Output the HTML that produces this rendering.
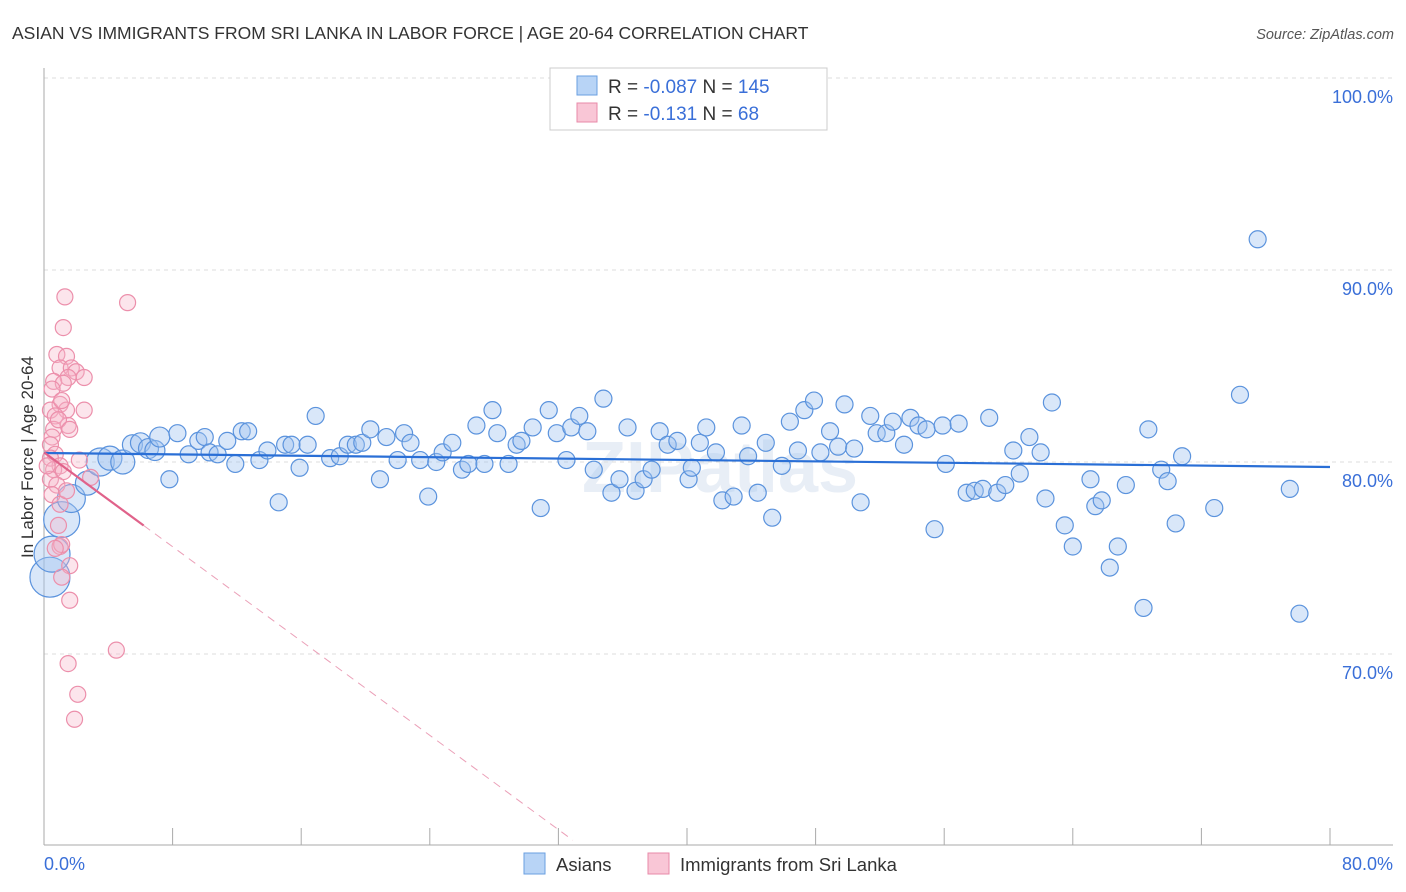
<!DOCTYPE html>
<html><head><meta charset="utf-8"><style>
body{margin:0;background:#fff;font-family:"Liberation Sans",sans-serif}
svg{display:block}
</style></head><body>
<svg id="chart" width="1406" height="892">
<text x="12" y="39" font-size="17.5" fill="#333">ASIAN VS IMMIGRANTS FROM SRI LANKA IN LABOR FORCE | AGE 20-64 CORRELATION CHART</text>
<text x="1394" y="39" font-size="14.5" fill="#555" font-style="italic" text-anchor="end">Source: ZipAtlas.com</text>
<text x="720" y="492" font-size="72" fill="#e8eef6" text-anchor="middle" font-weight="bold">ZIPatlas</text>
<g id="grid"></g>
<g id="axes"></g>
<g id="pts"></g>
<g id="trend"></g>
<text transform="translate(33,457) rotate(-90)" font-size="17" fill="#333" text-anchor="middle">In Labor Force | Age 20-64</text>
<g>
<rect x="550" y="68" width="277" height="62" fill="#fff" stroke="#ccc"/>
<rect x="577" y="76" width="20" height="19" fill="#b8d4f6" stroke="#6a9fe0"/>
<rect x="577" y="103" width="20" height="19" fill="#f9c6d6" stroke="#e88aa8"/>
<text x="608" y="93" font-size="19" fill="#333">R = <tspan fill="#3a6fd8">-0.087</tspan>   N = <tspan fill="#3a6fd8">145</tspan></text>
<text x="608" y="120" font-size="19" fill="#333">R =  <tspan fill="#3a6fd8"> -0.131</tspan>   N =  <tspan fill="#3a6fd8"> 68</tspan></text>
</g>
<g>
<rect x="524" y="853" width="21" height="21" fill="#b8d4f6" stroke="#6a9fe0"/>
<text x="556" y="871" font-size="18.5" fill="#333">Asians</text>
<rect x="648" y="853" width="21" height="21" fill="#f9c6d6" stroke="#e88aa8"/>
<text x="680" y="871" font-size="18.5" fill="#333">Immigrants from Sri Lanka</text>
</g>
</svg>
<script>
const blueX=[0.37,0.5,1.1,1.7,2.7,3.5,4.1,4.9,5.5,6.0,6.5,6.9,7.2,7.8,8.3,9.0,9.6,10.0,10.3,10.8,11.4,11.9,12.3,12.7,13.4,13.9,14.6,15.0,15.4,15.9,16.4,16.9,17.8,18.4,18.9,19.4,19.8,20.3,20.9,21.3,22.0,22.4,22.8,23.4,23.9,24.4,24.8,25.4,26.0,26.4,26.9,27.4,27.9,28.2,28.9,29.4,29.7,30.4,30.9,31.4,31.9,32.5,32.8,33.3,33.8,34.2,34.8,35.3,35.8,36.3,36.8,37.3,37.8,38.3,38.8,39.4,40.1,40.3,40.8,41.2,41.8,42.2,42.9,43.4,43.8,44.4,44.9,45.3,45.9,46.4,46.9,47.3,47.9,48.3,48.9,49.4,49.8,50.4,50.8,51.4,51.8,52.4,52.8,53.5,53.9,54.4,54.9,55.4,55.9,56.1,56.9,57.4,57.9,58.4,58.8,59.3,59.8,60.3,60.7,61.3,62.0,62.3,62.7,63.5,64.0,65.1,65.4,65.8,66.3,66.8,67.3,68.4,68.7,69.5,69.9,70.4,70.8,72.8,74.4,75.5,77.5,78.1];
const blueY=[74.0,75.2,77.0,78.1,78.9,80.0,80.2,80.0,80.9,81.0,80.7,80.6,81.3,79.1,81.5,80.4,81.1,81.3,80.5,80.4,81.1,79.9,81.6,81.6,80.1,80.6,77.9,80.9,80.9,79.7,80.9,82.4,80.2,80.3,80.9,80.9,81.0,81.7,79.1,81.3,80.1,81.5,81.0,80.1,78.2,80.0,80.5,81.0,79.6,79.9,81.9,79.9,82.7,81.5,79.9,80.9,81.1,81.8,77.6,82.7,81.5,80.1,81.8,82.4,81.6,79.6,83.3,78.4,79.1,81.8,78.5,79.1,79.6,81.6,80.9,81.1,79.1,79.7,81.0,81.8,80.5,78.0,78.2,81.9,80.3,78.4,81.0,77.1,79.8,82.1,80.6,82.7,83.2,80.5,81.6,80.8,83.0,80.7,77.9,82.4,81.5,81.5,82.1,80.9,82.3,81.9,81.7,76.5,81.9,79.9,82.0,78.4,78.5,78.6,82.3,78.4,78.8,80.6,79.4,81.3,80.5,78.1,83.1,76.7,75.6,79.1,77.7,78.0,74.5,75.6,78.8,72.4,81.7,79.6,79.0,76.8,80.3,77.6,83.5,91.6,78.6,72.1];
const blueR=[20,18,18,14,12,14,12,12,10,10,10,10,10];
const pinkX=[1.3,5.2,1.2,0.8,1.4,1.0,1.7,2.0,1.5,2.5,0.6,1.2,1.0,1.4,2.5,0.4,0.7,1.5,0.6,0.5,0.4,0.7,0.4,1.0,0.6,1.2,0.4,0.8,0.5,1.0,0.9,1.0,1.1,0.7,1.6,1.1,1.6,4.5,1.5,2.1,1.9,2.2,2.9,0.5,0.9,1.1,1.6,0.2,1.4];
const pinkY=[88.6,88.3,87.0,85.6,85.5,84.9,84.9,84.7,84.4,84.4,84.2,84.1,83.0,82.7,82.7,82.7,82.4,81.9,81.7,81.3,80.9,80.4,80.2,79.8,79.6,79.5,79.1,78.8,78.3,77.8,76.7,75.6,75.7,75.5,74.6,74.0,72.8,70.2,69.5,67.9,66.6,80.1,79.2,83.8,82.2,83.2,81.7,79.8,78.5];
const yTicks=[100,90,80,70];
const xTickVals=[0,8,16,24,32,40,48,56,64,72,80];
const blueTrend=[80.47,79.74];
const pinkTrend=[80.5,-0.614,6.2,32.9];
const NS="http://www.w3.org/2000/svg";
const X=v=>44+v*(1286/80), Y=v=>78+(100-v)*19.2;
function mk(p,t,a){const e=document.createElementNS(NS,t);for(const k in a)e.setAttribute(k,a[k]);document.getElementById(p).appendChild(e);return e;}
yTicks.forEach(t=>{
 const g=mk('grid','line',{x1:44,x2:1393,y1:Y(t),y2:Y(t),stroke:'#ddd','stroke-dasharray':'4,4'});
 
 
 const l=mk('grid','text',{x:1393,y:Y(t)+25,'font-size':18,fill:'#3a6fd8','text-anchor':'end'});
 l.textContent=t.toFixed(1)+'%';
 
 
});
const ax=mk('axes','line',{x1:44,x2:44,y1:68,y2:845,stroke:'#aaa'});


const bx=mk('axes','line',{x1:44,x2:1393,y1:845,y2:845,stroke:'#aaa'});


xTickVals.forEach(t=>{
 const k=mk('axes','line',{x1:X(t),x2:X(t),y1:828,y2:845,stroke:'#aaa'});
 
 
});
[[0,'start',44],[80,'end',1393]].forEach(([v,a,px])=>{
 const l=mk('axes','text',{x:px,y:870,'font-size':18,fill:'#3a6fd8','text-anchor':a});
 l.textContent=v.toFixed(1)+'%';
 
 
});
blueX.forEach((v,i)=>{
 const c=mk('pts','circle',{cx:X(v),cy:Y(blueY[i]),r:blueR[i]||8.5,fill:'rgba(160,196,240,0.4)',stroke:'#5b93dd','stroke-width':1.2});
 
 
});
pinkX.forEach((v,i)=>{
 const c=mk('pts','circle',{cx:X(v),cy:Y(pinkY[i]),r:8,fill:'rgba(246,180,200,0.35)',stroke:'#ec8fab','stroke-width':1.2});
 
 
});
const bt=mk('trend','line',{x1:X(0),y1:Y(blueTrend[0]),x2:X(80),y2:Y(blueTrend[1]),stroke:'#2a6fd6','stroke-width':2.2});


const pf=x=>pinkTrend[0]+pinkTrend[1]*x;
const ps=mk('trend','line',{x1:X(0),y1:Y(pf(0)),x2:X(pinkTrend[2]),y2:Y(pf(pinkTrend[2])),stroke:'#e0628a','stroke-width':2.2});


const pd=mk('trend','line',{x1:X(pinkTrend[2]),y1:Y(pf(pinkTrend[2])),x2:X(pinkTrend[3]),y2:Y(pf(pinkTrend[3])),stroke:'#eba0b8','stroke-width':1,'stroke-dasharray':'8,6'});


</script>
</body></html>
